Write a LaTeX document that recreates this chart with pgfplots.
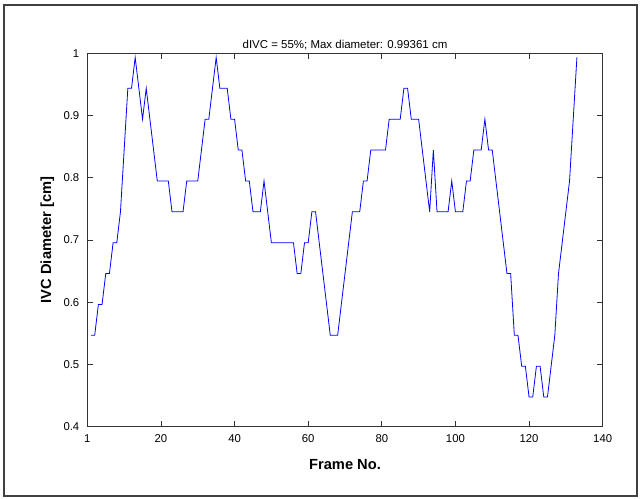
\documentclass[border=0pt]{standalone}
\usepackage{fontspec}
\setmainfont{Liberation Sans}
\usepackage{pgfplots}
\pgfplotsset{compat=1.18}
\begin{document}
\begin{tikzpicture}
\path (0,0) rectangle (481.5pt,374.25pt);
\draw[line width=0.8pt, black!75] (3pt,2.25pt) rectangle (477.75pt,370.5pt);
\begin{axis}[
  at={(65.5pt,54.4pt)}, anchor=south west, scale only axis,
  width=386.5pt, height=279.75pt,
  xmin=0, xmax=140, ymin=0.4, ymax=1,
  xtick={0,20,40,60,80,100,120,140},
  xticklabels={1,20,40,60,80,100,120,140},
  ytick={0.4,0.5,0.6,0.7,0.8,0.9,1},
  yticklabels={0.4,0.5,0.6,0.7,0.8,0.9,1},
  tick align=inside, major tick length=4pt,
  axis line style={black!80, line width=0.5pt},
  tick style={black!80, line width=0.5pt},
  ticklabel style={font=\fontsize{8.5}{10}\selectfont},
  xticklabel style={yshift=-2.8pt},
  yticklabel style={xshift=-2.5pt},
  every axis title/.style={at={(axis description cs:0.5,1)}, anchor=base, yshift=3.75pt, font=\fontsize{8.6}{10}\selectfont},
  every axis x label/.style={at={(axis description cs:0.5,-0.1033)}, anchor=center, font=\bfseries\fontsize{11}{13}\selectfont},
  every axis y label/.style={at={(axis description cs:-0.0776,0.5)}, anchor=center, rotate=90, font=\bfseries\fontsize{11}{13}\selectfont},
  title={dIVC = 55\%; Max diameter: 0.99361 cm},
  xlabel={Frame No.},
  ylabel={IVC Diameter [cm]},
]
\addplot[blue, line width=0.6pt, mark=none] table {
x y
1 0.5466
2 0.5466
3 0.5963
4 0.5963
5 0.6459
6 0.6459
7 0.6956
8 0.6956
9 0.7453
10 0.8446
11 0.9439
12 0.9439
13 0.9936
14 0.9439
15 0.8943
16 0.9439
17 0.8943
18 0.8446
19 0.7949
20 0.7949
21 0.7949
22 0.7949
23 0.7453
24 0.7453
25 0.7453
26 0.7453
27 0.7949
28 0.7949
29 0.7949
30 0.7949
31 0.8446
32 0.8943
33 0.8943
34 0.9439
35 0.9936
36 0.9439
37 0.9439
38 0.9439
39 0.8943
40 0.8943
41 0.8446
42 0.8446
43 0.7949
44 0.7949
45 0.7453
46 0.7453
47 0.7453
48 0.7949
49 0.7453
50 0.6956
51 0.6956
52 0.6956
53 0.6956
54 0.6956
55 0.6956
56 0.6956
57 0.6459
58 0.6459
59 0.6956
60 0.6956
61 0.7453
62 0.7453
63 0.6956
64 0.6459
65 0.5963
66 0.5466
67 0.5466
68 0.5466
69 0.5963
70 0.6459
71 0.6956
72 0.7453
73 0.7453
74 0.7453
75 0.7949
76 0.7949
77 0.8446
78 0.8446
79 0.8446
80 0.8446
81 0.8446
82 0.8943
83 0.8943
84 0.8943
85 0.8943
86 0.9439
87 0.9439
88 0.8943
89 0.8943
90 0.8943
91 0.8446
92 0.7949
93 0.7453
94 0.8446
95 0.7453
96 0.7453
97 0.7453
98 0.7453
99 0.7949
100 0.7453
101 0.7453
102 0.7453
103 0.7949
104 0.7949
105 0.8446
106 0.8446
107 0.8446
108 0.8943
109 0.8446
110 0.8446
111 0.7949
112 0.7453
113 0.6956
114 0.6459
115 0.6459
116 0.5466
117 0.5466
118 0.4969
119 0.4969
120 0.4473
121 0.4473
122 0.4969
123 0.4969
124 0.4473
125 0.4473
126 0.4969
127 0.5466
128 0.6459
129 0.6956
130 0.7453
131 0.7949
132 0.8943
133 0.9936
};
\end{axis}
\end{tikzpicture}
\end{document}
